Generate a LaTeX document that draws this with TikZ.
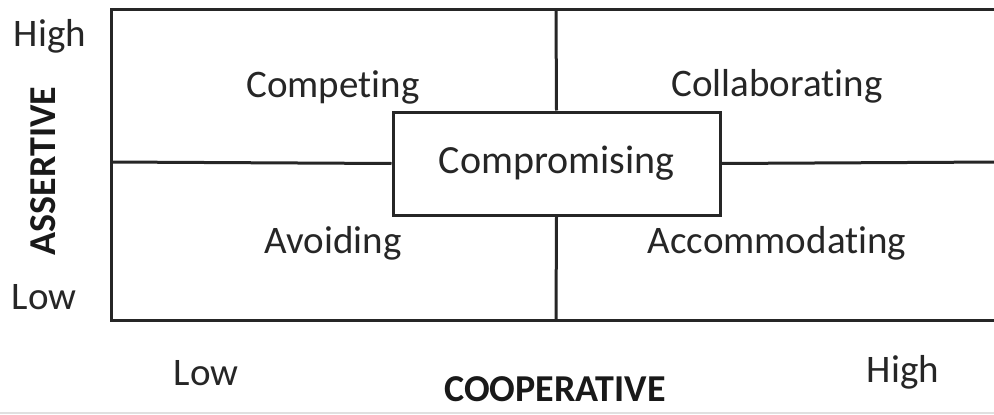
\documentclass[tikz,border=0pt]{standalone}
\usepackage{fontspec}
\setmainfont[Ligatures={NoCommon}]{Carlito}
\begin{document}
\begin{tikzpicture}[x=1pt,y=-1pt,
  frame/.style={line width=3pt,draw=black!85},
  lbl/.style={inner sep=0pt,font=\fontsize{39}{40}\selectfont,text=black!85},
  axis/.style={inner sep=0pt,font=\fontsize{38}{40}\selectfont\bfseries,text=black!90}]
\useasboundingbox (0,0) rectangle (994,415);
\fill[white] (0,0) rectangle (994,415);
% outer frame (open on the right)
\coordinate (tr) at (1000,9);
\coordinate (tl) at (111,9);
\coordinate (bl) at (111,320);
\coordinate (br) at (1000,320);
\draw[frame] (tr) -- (tl) -- (bl) -- (br);
% compromising box
\node[draw=black!85,line width=3pt,minimum width=327pt,minimum height=103pt,inner sep=0pt,
      font=\fontsize{40}{42}\selectfont,text=black!85] (comp) at (556.5,163.5) {\raisebox{-3pt}{Compromising}};
% dividers
\coordinate (vt) at (556,9);
\coordinate (vb) at (556,320);
\coordinate (hl) at (111,162);
\coordinate (hr) at (1000,162);
\draw[frame] (vt) -- (comp.north);
\draw[frame] (comp.south) -- (vb);
\draw[frame] (hl) -- (comp.west);
\draw[frame] (comp.east) -- (hr);
% quadrant labels
\node[lbl] (competing) at (333,87) {Competing};
\node[lbl] (collab) at (777,86) {Collaborating};
\node[lbl] (avoid) at (333,243) {Avoiding};
\node[lbl] (accom) at (777,243) {Accommodating};
% axis labels
\node[lbl] (yhigh) at (50,36) {High};
\node[lbl] (ylow) at (44,297) {Low};
\node[lbl] (xlow) at (206,373) {Low};
\node[lbl] (xhigh) at (903,372) {High};
\node[axis,rotate=90] (assert) at (43,171) {ASSERTIVE};
\node[axis] (coop) at (555,389) {COOPERATIVE};
% bottom rule
\coordinate (gl) at (0,413);
\coordinate (gr) at (994,413);
\draw[black!12,line width=1.5pt] (gl) -- (gr);
\end{tikzpicture}
\end{document}
